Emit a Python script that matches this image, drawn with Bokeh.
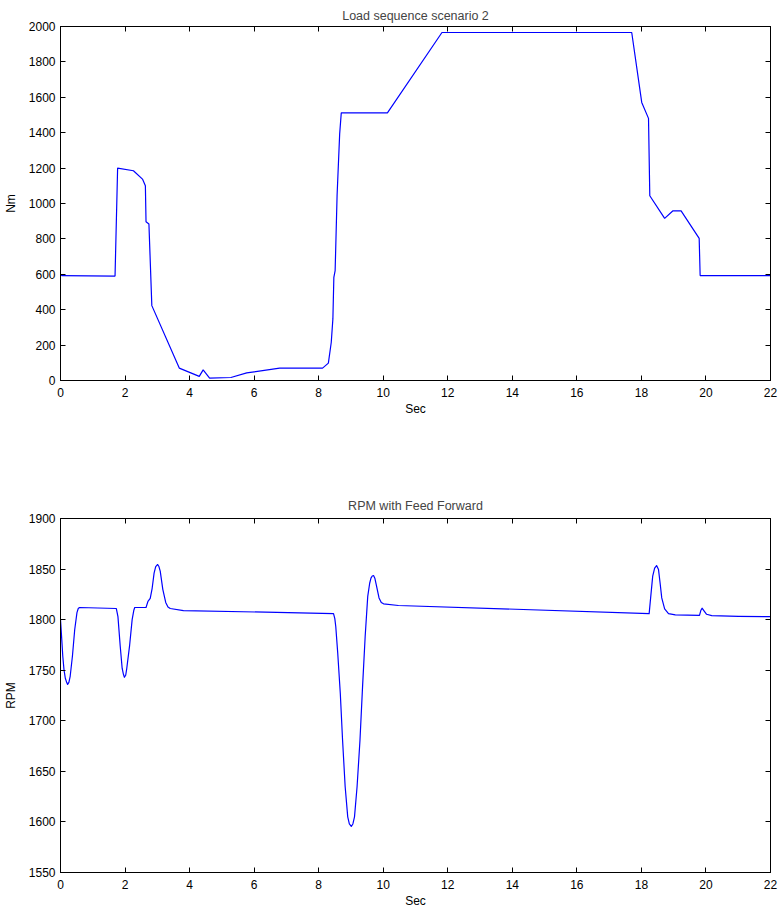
from bokeh.plotting import figure
from bokeh.layouts import column
from bokeh.models import Range1d, FixedTicker, LinearAxis
from bokeh.embed import file_html
from bokeh.resources import INLINE

# ---- data ----
t_load = [0, 0.05, 1.69, 1.77, 2.26, 2.54, 2.63, 2.65, 2.74, 2.83,
          3.68, 4.30, 4.42, 4.62, 5.28, 5.77, 6.79, 8.12, 8.30, 8.39,
          8.44, 8.47, 8.51, 8.57, 8.65, 8.70, 10.13, 11.82, 17.70, 18.01,
          18.22, 18.26, 18.72, 18.97, 19.23, 19.79, 19.82, 22.0]
load_nm = [598, 592, 590, 1200, 1185, 1138, 1100, 897, 884, 423,
           70, 23, 60, 13, 17, 43, 70, 70, 98, 216,
           348, 583, 621, 1044, 1392, 1512, 1512, 1966, 1966, 1571,
           1481, 1044, 916, 958, 958, 803, 593, 593]

t_rpm = [0, 0.04, 0.07, 0.11, 0.15, 0.19, 0.22, 0.26, 0.30, 0.37, 0.44, 0.51, 0.55, 0.59,
         1.73, 1.78, 1.85, 1.91, 1.95, 1.98, 2.02, 2.05, 2.14, 2.22, 2.27, 2.30,
         2.65, 2.71, 2.78, 2.84, 2.90, 2.95, 3.01, 3.05, 3.09, 3.17, 3.26, 3.33, 3.40, 3.81,
         8.46, 8.50, 8.53, 8.59, 8.67, 8.74, 8.82, 8.90, 8.95, 9.01, 9.06, 9.11, 9.19, 9.28,
         9.36, 9.44, 9.52, 9.58, 9.62, 9.66, 9.70, 9.74, 9.78, 9.87, 9.94, 10.01, 10.47,
         18.24, 18.29, 18.35, 18.41, 18.47, 18.53, 18.58, 18.63, 18.72, 18.84, 19.05,
         19.80, 19.84, 19.88, 19.94, 20.02, 20.18, 21.01, 22.0]
rpm = [1800, 1780, 1764, 1750, 1742, 1738, 1736, 1738, 1744, 1764, 1790, 1807, 1811, 1812,
       1811, 1803, 1774, 1752, 1746, 1743, 1745, 1751, 1774, 1800, 1809, 1812,
       1812, 1818, 1821, 1831, 1846, 1852.5, 1854.5, 1852.5, 1848, 1830, 1817, 1812.5, 1811, 1809,
       1806, 1801, 1793, 1767, 1727, 1681, 1635, 1605, 1598, 1595.5, 1598, 1605, 1635, 1681,
       1734, 1783, 1823, 1836, 1841, 1843.2, 1843.6, 1841, 1835, 1821.5, 1817, 1815.6, 1814,
       1806, 1823, 1843, 1851, 1853.5, 1849.5, 1836, 1821.5, 1810.7, 1806, 1804.7,
       1804.3, 1809, 1811.3, 1808.7, 1805.3, 1804, 1803.3, 1803]

x_ticks = [0, 2, 4, 6, 8, 10, 12, 14, 16, 18, 20, 22]
load_ticks = [0, 200, 400, 600, 800, 1000, 1200, 1400, 1600, 1800, 2000]
rpm_ticks = [1550, 1600, 1650, 1700, 1750, 1800, 1850, 1900]

FONT = "Liberation Sans"
FS = "12px"


def style(p, yticks, ylabel, title_standoff):
    p.title.align = "center"
    p.title.text_font = FONT
    p.title.text_font_size = "12.5px"
    p.title.text_font_style = "normal"
    p.title.standoff = title_standoff
    p.grid.visible = False
    p.outline_line_color = "black"
    p.outline_line_width = 1
    p.background_fill_color = "white"
    p.border_fill_color = "white"
    p.xaxis.ticker = FixedTicker(ticks=x_ticks)
    p.yaxis.ticker = FixedTicker(ticks=yticks)
    p.xaxis.axis_label = "Sec"
    p.yaxis.axis_label = ylabel
    for ax in list(p.xaxis) + list(p.yaxis):
        ax.major_tick_in = 5
        ax.major_tick_out = 0
        ax.minor_tick_in = 0
        ax.minor_tick_out = 0
        ax.axis_line_color = "black"
        ax.major_tick_line_color = "black"
        ax.major_label_text_font = FONT
        ax.major_label_text_font_size = FS
        ax.major_label_text_color = "black"
        ax.axis_label_text_font = FONT
        ax.axis_label_text_font_size = FS
        ax.axis_label_text_font_style = "normal"
        ax.axis_label_text_color = "black"
    p.xaxis.major_label_standoff = 7
    p.xaxis.axis_label_standoff = 2
    p.yaxis.major_label_standoff = 5
    p.yaxis.axis_label_standoff = 8
    # mirrored inward ticks on the top and right edges (MATLAB "box on"); no labels drawn
    for loc, tk in (("above", x_ticks), ("right", yticks)):
        ax = LinearAxis(ticker=FixedTicker(ticks=tk))
        ax.major_tick_in = 5
        ax.major_tick_out = 0
        ax.minor_tick_in = 0
        ax.minor_tick_out = 0
        ax.major_label_text_font_size = "0px"
        ax.major_label_text_color = None
        ax.major_label_standoff = 0
        ax.axis_line_color = "black"
        ax.major_tick_line_color = "black"
        p.add_layout(ax, loc)


p1 = figure(frame_width=710, frame_height=354,
            x_range=Range1d(0, 22), y_range=Range1d(0, 2000),
            title="Load sequence scenario 2",
            output_backend="svg", toolbar_location=None,
            min_border_left=54, min_border_right=8,
            min_border_top=26, min_border_bottom=40)
p1.line(t_load, load_nm, line_color="#0000ff", line_width=1.2)
style(p1, load_ticks, "Nm", 7)

p2 = figure(frame_width=710, frame_height=354,
            x_range=Range1d(0, 22), y_range=Range1d(1550, 1900),
            title="RPM with Feed Forward",
            output_backend="svg", toolbar_location=None,
            min_border_left=54, min_border_right=8,
            min_border_top=98, min_border_bottom=30)
p2.line(t_rpm, rpm, line_color="#0000ff", line_width=1.2, line_join="round")
style(p2, rpm_ticks, "RPM", 11)

layout = column(p1, p2, spacing=0)
open("out.html", "w").write(file_html(layout, INLINE))
